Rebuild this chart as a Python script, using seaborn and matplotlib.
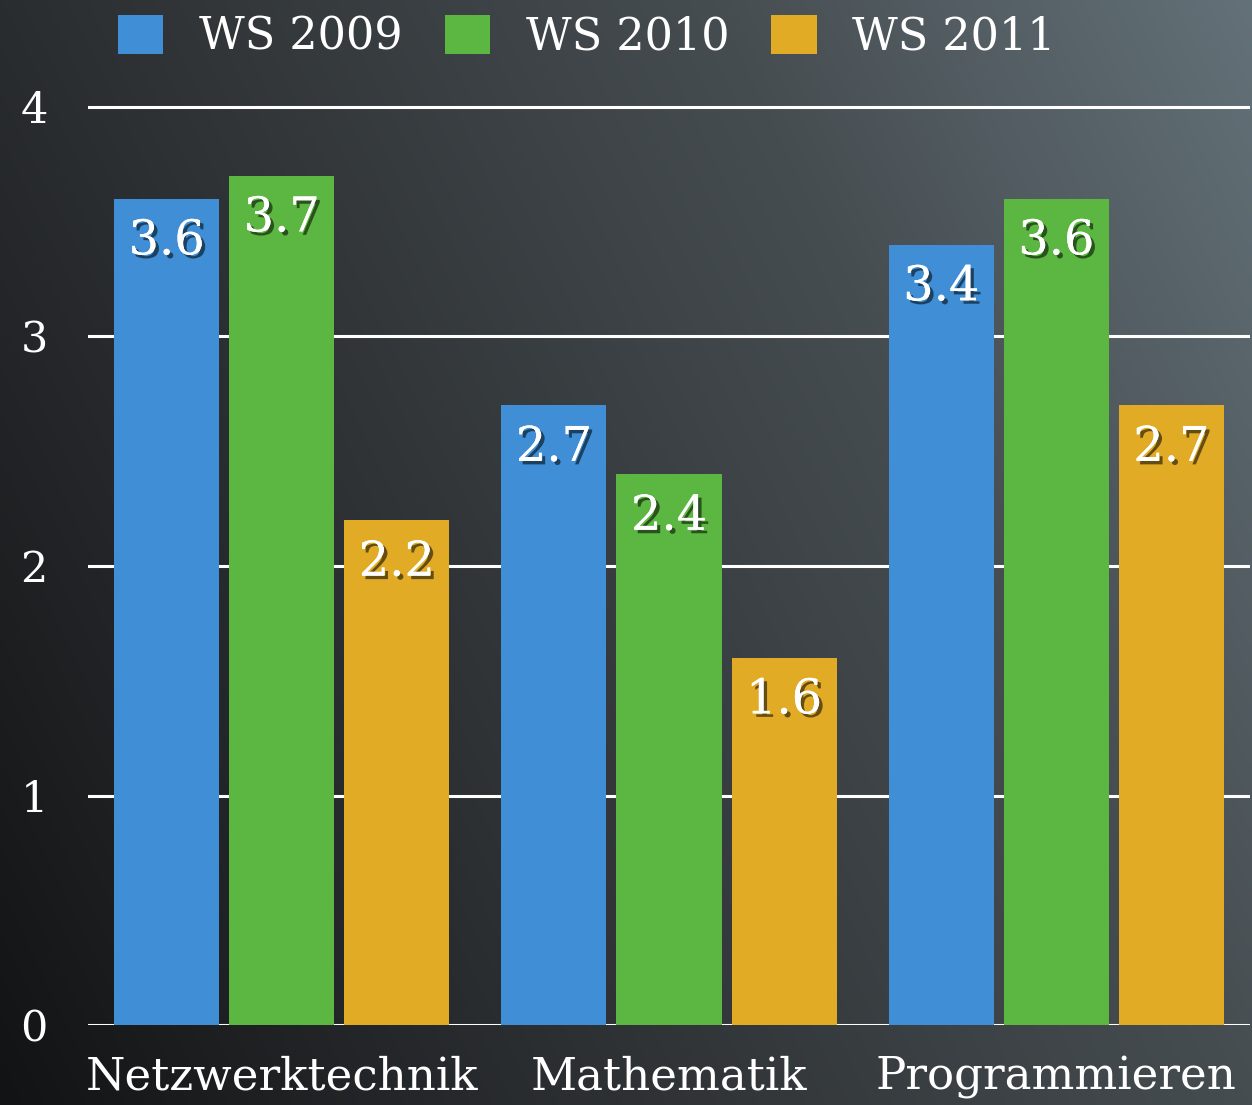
import numpy as np
import pandas as pd
import matplotlib
matplotlib.use("Agg")
import matplotlib.pyplot as plt
import matplotlib.patheffects as pe
import seaborn as sns

# ---- data ----
subjects = ["Netzwerktechnik", "Mathematik", "Programmieren"]
semesters = ["WS 2009", "WS 2010", "WS 2011"]
ws2009 = [3.6, 2.7, 3.4]
ws2010 = [3.7, 2.4, 3.6]
ws2011 = [2.2, 1.6, 2.7]
yticks = [0, 1, 2, 3, 4]
colors = ["#3f8ed6", "#5bb642", "#e1ab26"]

df = pd.DataFrame({
    "Fach": subjects * 3,
    "Semester": [semesters[0]] * 3 + [semesters[1]] * 3 + [semesters[2]] * 3,
    "Note": ws2009 + ws2010 + ws2011,
})

FONT = "DejaVu Serif"
plt.rcParams["font.family"] = FONT

W, H = 1252, 1105
fig = plt.figure(figsize=(W / 100, H / 100), dpi=100)

# ---- background gradient ----
ax_bg = fig.add_axes([0, 0, 1, 1], zorder=-10)
ny, nx = 221, 250
yy, xx = np.mgrid[0:1:ny * 1j, 0:1:nx * 1j]
yy = yy[::-1]  # row 0 = top -> y=1
t = 0.7 * xx + 0.3 * yy
stops = [0.0, 0.3, 0.7, 1.0]
cols = np.array([[0x12, 0x13, 0x14], [0x2a, 0x2d, 0x30],
                 [0x46, 0x4d, 0x51], [0x63, 0x71, 0x78]]) / 255
img = np.stack([np.interp(t, stops, cols[:, c]) for c in range(3)], axis=-1)
ax_bg.imshow(img, extent=[0, 1, 0, 1], aspect="auto", interpolation="bicubic")
ax_bg.axis("off")

# ---- main axes ----
left, right = 88 / W, 1250 / W
bottom, top = (H - 1025) / H, (H - 105) / H
ax = fig.add_axes([left, bottom, right - left, top - bottom])
ax.set_facecolor("none")

sns.barplot(data=df, x="Fach", y="Note", hue="Semester", palette=colors,
            width=0.891, gap=0.087, saturation=1, ax=ax, zorder=3, legend=True)

ax.set_ylim(0, 4 * (920 / 918))
ax.set_xlim(-0.5, 2.5)
ax.set_yticks(yticks)
ax.set_yticklabels([str(v) for v in yticks])
ax.set_xlabel("")
ax.set_ylabel("")
for s in ax.spines.values():
    s.set_visible(False)
ax.grid(axis="y", color="white", linewidth=2.2, zorder=1)
ax.grid(axis="x", visible=False)
ax.set_axisbelow(True)
ax.tick_params(axis="y", length=0, pad=29, labelsize=31, labelcolor="white")
ax.tick_params(axis="x", length=0, pad=22, labelsize=32.5, labelcolor="white")

# value labels inside bars
shadow = [pe.withSimplePatchShadow(offset=(2.5, -2.5), shadow_rgbFace="black", alpha=0.55), pe.Normal()]
for cont in ax.containers:
    for p in cont.patches:
        h = p.get_height()
        ax.annotate(f"{h:.1f}", (p.get_x() + p.get_width() / 2, h),
                    xytext=(0, -40), textcoords="offset points",
                    ha="center", va="baseline", fontsize=34.5, color="white",
                    path_effects=shadow, zorder=5)

# legend
handles, labels = ax.get_legend_handles_labels()
ax.get_legend().remove()
fig.legend(handles, labels, loc="center left", bbox_to_anchor=(118 / W, 1 - 37 / H),
           ncol=3, frameon=False, fontsize=32, labelcolor="white",
           handlelength=1.02, handleheight=0.98, handletextpad=0.8,
           columnspacing=0.95, borderpad=0, borderaxespad=0)

fig.savefig("out.png", dpi=100)
